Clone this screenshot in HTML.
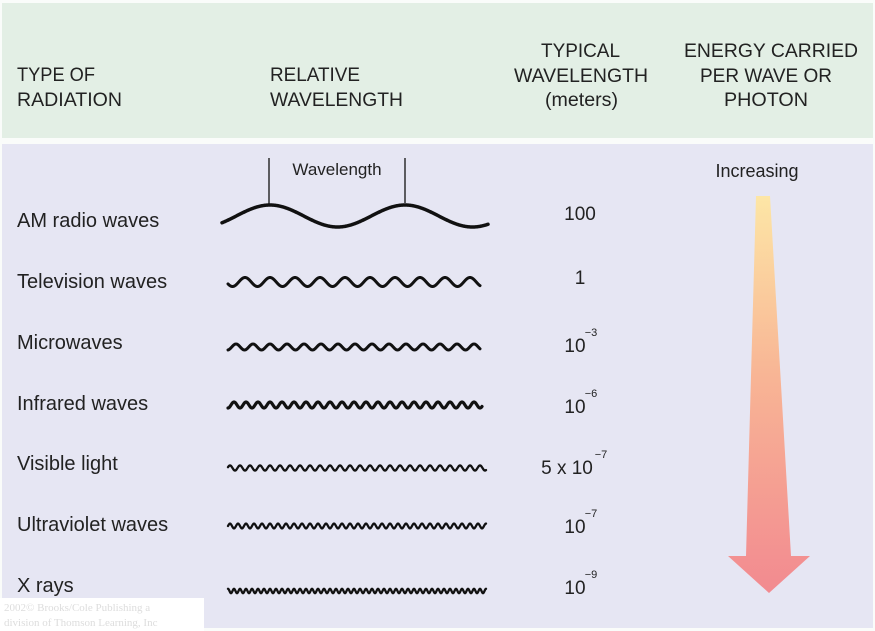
<!DOCTYPE html>
<html><head><meta charset="utf-8"><style>
html,body{margin:0;padding:0;background:#fff;}
svg{display:block;font-family:"Liberation Sans",sans-serif;}
</style></head><body>
<svg id="s" width="875" height="631" viewBox="0 0 875 631">
<defs><linearGradient id="g" x1="0" y1="0" x2="0" y2="1">
<stop offset="0" stop-color="#fde6a6"/><stop offset="0.45" stop-color="#f8b595"/><stop offset="1" stop-color="#f28a90"/></linearGradient></defs>
<rect x="0" y="0" width="875" height="631" fill="#fafcfa"/>
<rect x="2" y="3" width="871" height="135" fill="#e3efe5"/>
<rect x="2" y="144" width="871" height="484" fill="#e6e6f3"/>
<g fill="#222" font-size="19" lengthAdjust="spacingAndGlyphs">
<text x="17" y="81" textLength="78" lengthAdjust="spacingAndGlyphs">TYPE OF</text><text x="17" y="106" textLength="105" lengthAdjust="spacingAndGlyphs">RADIATION</text>
<text x="270" y="81" textLength="90" lengthAdjust="spacingAndGlyphs">RELATIVE</text><text x="270" y="106" textLength="133" lengthAdjust="spacingAndGlyphs">WAVELENGTH</text>
<text x="541" y="57" textLength="79" lengthAdjust="spacingAndGlyphs">TYPICAL</text>
<text x="514" y="82" textLength="134" lengthAdjust="spacingAndGlyphs">WAVELENGTH</text>
<text x="545" y="106" textLength="73" lengthAdjust="spacingAndGlyphs">(meters)</text>
<text x="684" y="57" textLength="174" lengthAdjust="spacingAndGlyphs">ENERGY CARRIED</text>
<text x="700" y="82" textLength="132" lengthAdjust="spacingAndGlyphs">PER WAVE OR</text>
<text x="724" y="106" textLength="84" lengthAdjust="spacingAndGlyphs">PHOTON</text>
</g>
<g fill="#222" font-size="20">
<text x="17" y="227">AM radio waves</text>
<text x="17" y="288">Television waves</text>
<text x="17" y="349">Microwaves</text>
<text x="17" y="410">Infrared waves</text>
<text x="17" y="470">Visible light</text>
<text x="17" y="531">Ultraviolet waves</text>
<text x="17" y="592">X rays</text>
</g>
<g fill="#222" font-size="19" text-anchor="middle">
<text x="580" y="220">100</text>
<text x="580" y="284">1</text>
<text x="575" y="352">10</text><text x="591" y="336" font-size="11">−3</text>
<text x="575" y="413">10</text><text x="591" y="397" font-size="11">−6</text>
<text x="567" y="474">5 x 10</text><text x="601" y="458" font-size="11">−7</text>
<text x="575" y="533">10</text><text x="591" y="517" font-size="11">−7</text>
<text x="575" y="594">10</text><text x="591" y="578" font-size="11">−9</text>
</g>
<text x="337" y="175" font-size="17" fill="#222" text-anchor="middle">Wavelength</text>
<text x="757" y="177" font-size="18" fill="#222" text-anchor="middle">Increasing</text>
<line x1="269" y1="158" x2="269" y2="206" stroke="#111" stroke-width="1.3"/>
<line x1="405" y1="158" x2="405" y2="203" stroke="#111" stroke-width="1.3"/>
<path d="M756 196 L770 196 L791 556 L810 556 L769 593 L728 556 L746 556 Z" fill="url(#g)"/>
<g id="w" fill="none" stroke="#111" stroke-linecap="round"></g>
<rect x="0" y="598" width="204" height="33" fill="#fff"/>
<text x="4" y="611" font-size="11" fill="#ddd" font-family="Liberation Serif">2002© Brooks/Cole Publishing a</text>
<text x="4" y="626" font-size="11" fill="#ddd" font-family="Liberation Serif">division of Thomson Learning, Inc</text>
</svg>
<script>
var W=[[222,488,216,11,135,3.5],[228,480,282,4.5,25,3],[228,480,347,3,17,3],[228,482,405,3,12,3.2],[228,486,468,2.6,10,2.3],[228,486,526,2.4,8,2.3],[228,486,591,2.2,6,2.3]];
var g=document.getElementById('w'),ns='http://www.w3.org/2000/svg';
W.forEach(function(a){var d='';for(var x=a[0];x<=a[1];x+=0.5){var y=a[2]-a[3]*Math.cos(2*Math.PI*(x-270)/a[4]);d+=(d?'L':'M')+x.toFixed(1)+' '+y.toFixed(2);}
var p=document.createElementNS(ns,'path');p.setAttribute('d',d);p.setAttribute('stroke-width',a[5]);g.appendChild(p);});
</script>
</body></html>
